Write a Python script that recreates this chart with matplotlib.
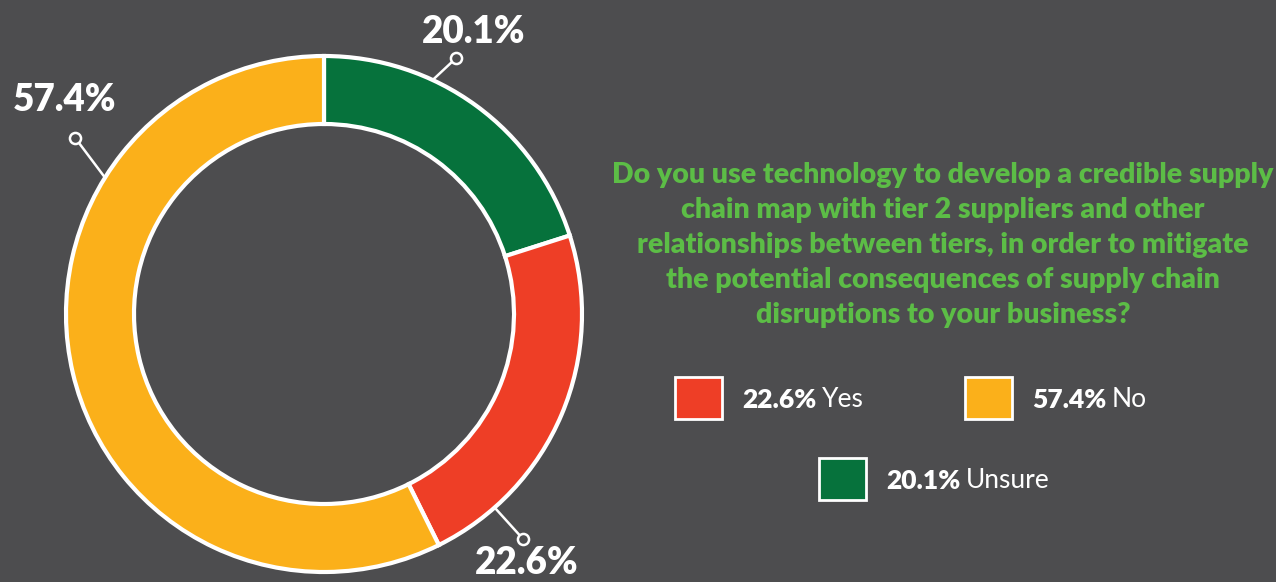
import matplotlib.pyplot as plt
from matplotlib.patches import Rectangle
import numpy as np

labels = ['Unsure', 'Yes', 'No']
values = [20.1, 22.6, 57.4]
colors = ['#06723c', '#ee3e26', '#fbb01a']
question = ('Do you use technology to develop a credible supply\n'
            'chain map with tier 2 suppliers and other\n'
            'relationships between tiers, in order to mitigate\n'
            'the potential consequences of supply chain\n'
            'disruptions to your business?')
legend_order = ['Yes', 'No', 'Unsure']

bg = '#4d4d4f'
title_green = '#5cbd46'
plt.rcParams['font.family'] = ['Lato', 'DejaVu Sans']

fig = plt.figure(figsize=(12.76, 5.82), dpi=100, facecolor=bg)
ax = fig.add_axes([0, 0, 1, 1])
ax.set_facecolor(bg)

cx, cy, R, w = 324, 268, 258, 68
ax.pie(values, colors=colors, startangle=90, counterclock=False,
       radius=R, center=(cx, cy),
       wedgeprops=dict(width=w, edgecolor='white', linewidth=3))
ax.set_xlim(0, 1276)
ax.set_ylim(0, 582)
ax.set_aspect('equal')
ax.axis('off')

# leader lines: (start angle, start r, end angle, end r), label position
leaders = {
    'Unsure': ((65, 259, 62.7, 288), (474, 550)),
    'Yes': ((-48.6, 259, -48.5, 300), (527, 19)),
    'No': ((148, 259, 144.7, 305), (65, 482)),
}
for lab, val in zip(labels, values):
    (a0, r0, a1, r1), (tx, ty) = leaders[lab]
    x0 = cx + r0 * np.cos(np.radians(a0))
    y0 = cy + r0 * np.sin(np.radians(a0))
    x1 = cx + r1 * np.cos(np.radians(a1))
    y1 = cy + r1 * np.sin(np.radians(a1))
    ax.plot([x0, x1], [y0, y1], color='white', lw=1.8, zorder=5)
    ax.plot(x1, y1, 'o', ms=8, mfc=bg, mec='white', mew=1.8, zorder=6)
    ax.text(tx, ty, f'{val}%', color='white', fontsize=26.5, fontweight='heavy',
            ha='center', va='center', zorder=6)

ax.text(943, 337, question, color=title_green, fontsize=20.5, fontweight='heavy',
        ha='center', va='center', linespacing=1.42)

# legend
leg_pos = {'Yes': (675, 163), 'No': (965, 163), 'Unsure': (819, 82)}
for lab in legend_order:
    i = labels.index(lab)
    sx, sy = leg_pos[lab]
    ax.add_patch(Rectangle((sx, sy), 47, 42, facecolor=colors[i],
                           edgecolor='white', linewidth=2, zorder=5))
    t1 = ax.text(sx + 67, sy + 11, f'{values[i]}%', color='white',
                 fontsize=19, fontweight='heavy', ha='left', va='baseline')
    ax.annotate(lab, xy=(1, 0), xycoords=t1, xytext=(4, 0),
                textcoords='offset points', color='white', fontsize=19,
                ha='left', va='bottom')

fig.savefig('out.png', dpi=100, facecolor=bg)
